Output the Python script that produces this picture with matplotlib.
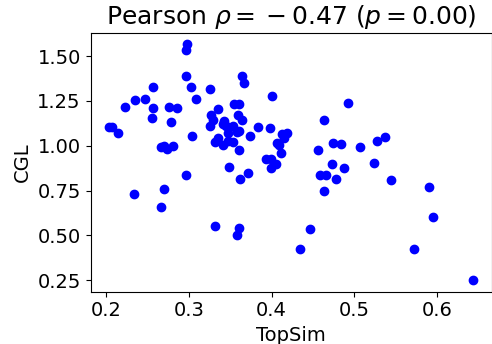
import matplotlib
matplotlib.use("Agg")
import matplotlib.pyplot as plt

topsim = [0.203, 0.207, 0.214, 0.223, 0.233, 0.235, 0.247, 0.255, 0.256, 0.257,
          0.266, 0.266, 0.270, 0.270, 0.274, 0.276, 0.278, 0.281, 0.286, 0.296,
          0.297, 0.297, 0.298, 0.302, 0.304, 0.309, 0.325, 0.325, 0.327, 0.329,
          0.331, 0.331, 0.335, 0.335, 0.341, 0.341, 0.343, 0.345, 0.347, 0.347,
          0.349, 0.353, 0.353, 0.354, 0.358, 0.358, 0.359, 0.360, 0.361, 0.361,
          0.361, 0.362, 0.364, 0.364, 0.367, 0.372, 0.374, 0.384, 0.393, 0.398,
          0.399, 0.399, 0.400, 0.405, 0.407, 0.409, 0.411, 0.412, 0.415, 0.419,
          0.434, 0.447, 0.456, 0.459, 0.464, 0.464, 0.466, 0.473, 0.474, 0.478,
          0.484, 0.487, 0.492, 0.507, 0.524, 0.528, 0.537, 0.545, 0.572, 0.590,
          0.595, 0.644]
cgl = [1.102, 1.102, 1.070, 1.215, 0.729, 1.254, 1.262, 1.157, 1.328, 1.209,
       0.992, 0.658, 0.759, 0.998, 0.983, 1.219, 1.135, 1.000, 1.209, 1.532,
       1.390, 0.835, 1.565, 1.328, 1.057, 1.259, 1.319, 1.111, 1.174, 1.146,
       1.020, 0.553, 1.206, 1.045, 1.119, 1.007, 1.137, 1.109, 1.072, 1.025,
       0.879, 1.113, 1.022, 1.235, 1.076, 0.505, 1.169, 0.979, 1.081, 1.234,
       0.544, 0.816, 1.145, 1.391, 1.351, 0.846, 1.053, 1.106, 0.924, 1.100,
       0.928, 0.874, 1.280, 0.901, 1.017, 1.002, 0.961, 1.063, 1.045, 1.072,
       0.427, 0.536, 0.974, 0.839, 1.145, 0.746, 0.839, 0.896, 1.013, 0.816,
       1.009, 0.874, 1.241, 0.992, 0.905, 1.029, 1.050, 0.811, 0.427, 0.768,
       0.601, 0.252]

rho_text = "0.47"
pval_text = "0.00"

fig = plt.figure(figsize=(4.92, 3.44), dpi=100)
ax = fig.add_axes([0.184, 0.152, 0.815, 0.753])
ax.scatter(topsim, cgl, color='blue')
ax.set_title(r'Pearson $\rho = {}-{}' + rho_text + r'$ ($p = ' + pval_text + r'$)', fontsize=18)
ax.set_xlabel('TopSim', fontsize=14)
ax.set_ylabel('CGL', fontsize=14)
ax.tick_params(labelsize=14)
ax.set_xticks([0.2, 0.3, 0.4, 0.5, 0.6])
ax.set_yticks([0.25, 0.5, 0.75, 1.0, 1.25, 1.5])
fig.savefig('out.png', dpi=100)
